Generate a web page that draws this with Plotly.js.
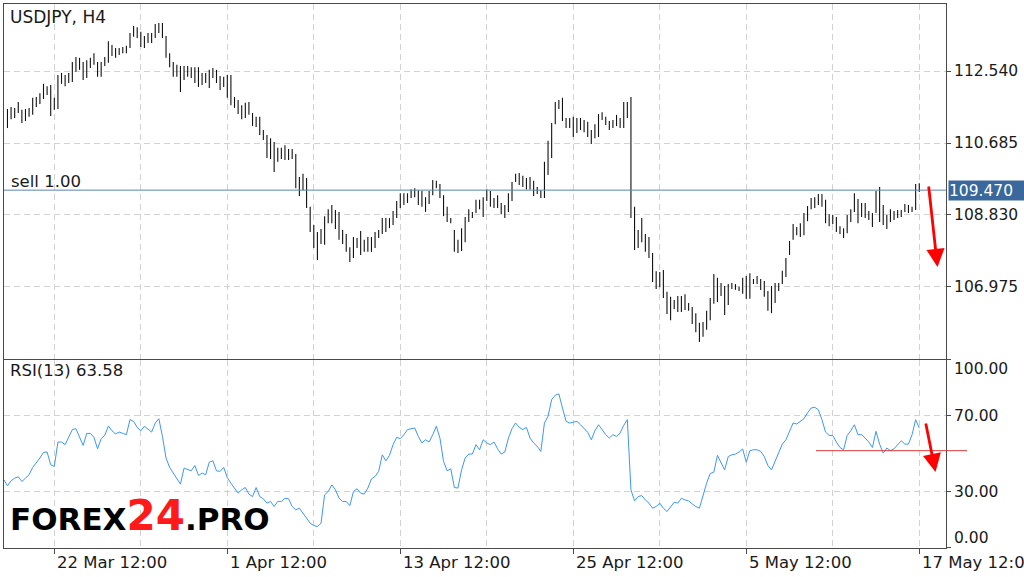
<!DOCTYPE html>
<html><head><meta charset="utf-8">
<script src="https://cdn.plot.ly/plotly-3.0.1.min.js"></script>
<style>html,body{margin:0;padding:0;background:#fff;overflow:hidden}#chart{width:1024px;height:577px}</style>
</head><body><div id="chart"></div>
<script>
// ---- data (H4 bars, index 0 = first visible bar) ----
const barHigh = [
111.56,111.61,111.59,111.74,111.54,111.56,111.59,111.85,111.87,111.97,
112.21,112.15,112.18,111.85,112.44,112.49,112.44,112.49,112.77,112.90,
112.88,112.77,112.82,112.88,113.00,112.77,112.77,112.90,113.31,113.21,
113.13,113.13,113.16,113.19,113.52,113.70,113.67,113.55,113.44,113.52,
113.52,113.75,113.78,113.78,113.44,113.00,112.77,112.70,112.67,112.67,
112.67,112.64,112.64,112.64,112.49,112.49,112.57,112.62,112.57,112.41,
112.39,112.44,112.44,111.87,111.79,111.66,111.72,111.74,111.46,111.36,
111.36,111.02,110.89,110.81,110.71,110.56,110.56,110.63,110.53,110.53,
110.40,109.81,109.89,109.78,109.04,108.57,108.39,108.47,108.80,108.98,
109.09,108.96,108.91,108.44,108.34,108.00,108.26,108.24,108.42,108.19,
108.26,108.26,108.39,108.44,108.75,108.75,108.75,108.93,109.19,109.39,
109.39,109.39,109.49,109.52,109.47,109.45,109.29,109.45,109.73,109.71,
109.63,109.34,109.04,108.75,108.44,108.19,108.49,108.78,108.98,108.91,
109.22,109.22,109.29,109.49,109.45,109.27,109.34,109.14,109.09,109.39,
109.68,109.89,109.91,109.84,109.78,109.81,109.71,109.55,109.47,110.20,
110.74,111.20,111.74,111.79,111.85,111.33,111.33,111.36,111.33,111.33,
111.28,111.23,111.02,111.17,111.43,111.48,111.36,111.25,111.28,111.41,
111.33,111.74,111.74,111.87,109.04,108.44,108.75,108.34,108.26,107.85,
107.38,107.36,107.41,106.85,106.72,106.64,106.74,106.74,106.79,106.56,
106.46,106.30,106.05,106.07,106.36,106.69,107.31,107.21,107.08,107.00,
107.05,107.08,107.05,106.98,107.21,107.26,107.33,107.18,107.26,107.18,
107.13,106.87,107.00,107.08,107.08,107.39,107.72,108.16,108.60,108.52,
108.62,108.88,109.06,109.27,109.29,109.37,109.37,109.22,108.85,108.83,
108.78,108.54,108.49,108.83,108.98,109.39,109.24,109.14,109.14,108.93,
108.88,109.45,109.55,109.09,108.83,108.98,108.93,108.96,108.96,109.11,
109.09,109.04,109.63,109.65];
const barLow = [
111.07,111.30,111.33,111.46,111.20,111.25,111.36,111.41,111.61,111.69,
111.82,111.92,111.38,111.54,111.56,112.21,112.15,112.23,112.26,112.52,
112.57,112.31,112.36,112.62,112.70,112.39,112.39,112.67,112.75,112.93,
112.88,112.95,113.00,113.00,113.13,113.42,113.39,113.16,113.13,113.26,
113.26,113.39,113.52,113.39,112.88,112.64,112.39,112.39,112.00,112.31,
112.39,112.36,112.23,112.13,112.18,112.23,112.10,112.36,112.23,112.05,
112.13,111.85,111.66,111.59,111.43,111.30,111.33,111.41,111.12,111.10,
110.89,110.76,110.30,110.27,109.94,110.20,110.27,110.25,110.25,110.27,
109.52,109.32,109.47,109.01,108.39,107.98,107.67,108.08,108.06,108.62,
108.62,108.47,108.19,108.08,107.88,107.62,107.72,107.98,107.80,107.88,
107.88,107.88,107.98,108.24,108.34,108.39,108.49,108.57,108.75,109.01,
109.09,109.14,109.27,109.29,109.09,109.04,108.91,109.11,109.34,109.52,
109.27,108.80,108.65,108.62,107.88,107.85,107.90,108.13,108.65,108.75,
108.88,108.98,108.78,109.19,109.04,109.01,109.01,108.85,108.75,108.91,
109.19,109.68,109.60,109.55,109.49,109.49,109.32,109.37,109.27,109.27,
109.86,110.30,111.17,111.56,111.25,111.07,111.07,110.84,110.94,111.02,
110.96,110.84,110.66,110.81,110.84,111.28,111.15,111.02,111.07,111.12,
111.07,111.07,111.33,108.75,107.93,107.98,108.13,107.88,107.72,107.10,
106.92,106.97,106.69,106.28,106.12,106.41,106.33,106.33,106.38,106.36,
106.02,105.81,105.56,105.69,105.87,106.12,106.54,106.59,106.74,106.25,
106.51,106.92,106.90,106.87,106.80,106.67,106.67,107.05,107.05,106.90,
106.72,106.36,106.30,106.56,106.87,107.05,107.23,107.80,108.19,108.31,
108.26,108.31,108.67,108.98,109.01,109.09,109.04,108.62,108.54,108.60,
108.39,108.34,108.24,108.36,108.65,108.91,108.62,108.78,108.75,108.70,
108.52,108.88,108.65,108.57,108.47,108.65,108.70,108.75,108.78,108.91,
108.88,108.91,108.96,109.42];
// RSI(13), first value belongs to bar index -1 (just off the left edge)
const rsiFirstIndex = -1;
const rsiValues = [
36.0,
32.8,35.5,36.9,37.6,35.1,36.9,38.7,42.6,44.9,47.6,
50.6,50.8,44.0,43.1,56.1,56.1,54.7,58.6,62.7,63.2,
58.6,54.3,60.7,60.7,58.6,52.5,57.9,59.7,64.6,62.1,
60.4,61.4,60.7,60.0,68.0,67.1,63.9,62.1,64.5,62.7,
61.4,66.2,68.5,59.1,47.6,42.6,39.6,36.9,33.7,42.2,
41.3,40.8,43.6,38.3,39.6,38.7,45.4,46.1,40.8,40.5,
42.6,37.2,34.2,31.6,28.9,30.7,31.9,28.4,27.1,31.9,
27.1,25.9,23.6,24.5,21.8,24.5,24.5,26.2,25.9,21.8,
20.0,20.9,18.2,15.9,12.9,11.7,11.1,12.9,28.0,29.8,
33.3,30.7,26.2,24.5,24.5,22.3,29.8,31.2,28.9,28.4,
31.6,36.5,37.8,40.5,49.3,46.1,49.0,54.7,58.6,57.9,
60.0,62.7,63.2,63.6,59.1,55.6,57.3,56.1,60.0,64.5,
58.2,45.8,40.8,41.9,31.9,31.6,41.3,47.6,49.7,49.7,
54.7,52.0,57.3,55.6,54.7,56.1,52.5,49.7,50.8,58.2,
63.2,66.2,63.9,62.7,63.9,58.2,55.6,53.8,51.1,66.2,
69.8,78.7,81.0,81.7,74.2,67.1,66.2,66.8,67.1,65.3,
63.2,61.3,57.3,62.1,65.3,62.7,60.0,58.2,60.0,59.1,
60.9,65.0,68.0,30.7,24.8,27.1,27.6,25.3,23.6,20.9,
21.8,23.6,20.9,19.1,21.8,24.1,23.6,26.2,25.3,24.8,
23.2,21.8,20.9,28.0,34.2,39.4,40.1,49.0,44.9,41.3,
48.4,49.3,49.7,50.8,52.4,45.4,51.5,52.0,52.0,51.1,
48.4,43.6,41.3,45.8,50.2,55.0,57.3,62.1,66.2,65.7,
67.1,68.5,71.6,74.2,74.6,73.3,68.0,61.4,59.6,59.6,
56.1,53.2,52.0,59.6,62.1,65.3,60.0,60.0,58.2,56.1,
53.2,61.8,55.0,50.2,52.9,51.5,52.5,54.7,56.8,55.0,
55.0,60.0,68.0,63.6];
const rsiLast = 63.58;
const priceTicks = [106.975, 108.830, 110.685, 112.540];
const rsiTicks = [0, 30, 70, 100];
const rsiTickText = ['', '30.00', '70.00', ''];
const timeLabels = ['22 Mar 12:00', '1 Apr 12:00', '13 Apr 12:00', '25 Apr 12:00', '5 May 12:00', '17 May 12:00'];
const timeLabelBars = [13, 61, 109, 157, 205, 253];
const gridBars = [13, 37, 61, 85, 109, 133, 157, 181, 205, 229, 253];
const sellPrice = 109.470;
const rsiLevel = 51.5;

// ---- build traces ----
const bx = [], by = [];
for (let i = 0; i < barHigh.length; i++) {
  bx.push(i, i, null); by.push(barLow[i], barHigh[i], null);
}
const rx = rsiValues.map((v, k) => k + rsiFirstIndex);

const W = 1024, H = 577;
const px = v => v / W, py = v => 1 - v / H;
const FONT = 'DejaVu Sans';
const grid = '#d2d2d2', frame = '#4a4a4a';
const xRange = [-0.96, 260.42];

const traces = [
  {type: 'scatter', mode: 'lines', x: bx, y: by, xaxis: 'x', yaxis: 'y',
   line: {color: '#111', width: 1.1}, hoverinfo: 'skip', connectgaps: false},
  {type: 'scatter', mode: 'lines', x: rx, y: rsiValues, xaxis: 'x2', yaxis: 'y2',
   line: {color: '#3d97f2', width: 1}, hoverinfo: 'skip'}
];

const ann = [
  {text: 'USDJPY, H4', xref: 'paper', yref: 'paper', x: px(8), y: py(17), xanchor: 'left', yanchor: 'middle', showarrow: false, font: {size: 17, color: '#1a1a1a'}},
  {text: 'sell 1.00', xref: 'paper', yref: 'paper', x: px(9), y: py(181), xanchor: 'left', yanchor: 'middle', showarrow: false, font: {size: 16.5, color: '#1a1a1a'}},
  {text: 'RSI(13) ' + rsiLast.toFixed(2), xref: 'paper', yref: 'paper', x: px(8), y: py(370), xanchor: 'left', yanchor: 'middle', showarrow: false, font: {size: 16.5, color: '#1a1a1a'}},
  {text: sellPrice.toFixed(3), xref: 'paper', yref: 'y', x: px(948), y: sellPrice, xanchor: 'left', yanchor: 'middle', showarrow: false,
   bgcolor: '#3a679c', font: {size: 15.5, color: '#ffffff'}, width: 76, height: 19, align: 'left', borderpad: 0},
  {text: '100.00', xref: 'paper', yref: 'paper', x: px(952), y: py(369), xanchor: 'left', yanchor: 'middle', showarrow: false, font: {size: 15.5, color: '#1a1a1a'}},
  {text: '0.00', xref: 'paper', yref: 'paper', x: px(952), y: py(538), xanchor: 'left', yanchor: 'middle', showarrow: false, font: {size: 15.5, color: '#1a1a1a'}},
  {text: '<b>FOREX<span style="color:#ff1a1a;font-size:42px">24</span>.PRO</b>', xref: 'paper', yref: 'paper', x: px(8), y: py(542), xanchor: 'left', yanchor: 'bottom', showarrow: false,
   font: {family: 'DejaVu Sans', size: 31, color: '#000'}},
  {text: '', xref: 'paper', yref: 'paper', x: px(937.5), y: py(267), ax: -9, ay: -82, showarrow: true, arrowhead: 2, arrowsize: 1.3, arrowwidth: 2.8, arrowcolor: '#ff0000', standoff: 0},
  {text: '', xref: 'paper', yref: 'paper', x: px(935.5), y: py(472), ax: -10, ay: -50, showarrow: true, arrowhead: 2, arrowsize: 1.3, arrowwidth: 2.8, arrowcolor: '#ff0000', standoff: 0}
];
timeLabels.forEach((t, k) => ann.push({text: t, xref: 'x2', yref: 'paper', x: timeLabelBars[k], xshift: 1, y: py(562), xanchor: 'left', yanchor: 'middle', showarrow: false, font: {size: 16.5, color: '#1a1a1a'}}));

const layout = {
  width: W, height: H, margin: {l: 0, r: 0, t: 0, b: 0}, showlegend: false,
  paper_bgcolor: '#fff', plot_bgcolor: '#fff',
  font: {family: FONT, size: 15, color: '#1a1a1a'},
  xaxis: {domain: [px(4), px(946)], range: xRange, anchor: 'y', showticklabels: false, tickvals: gridBars, ticks: '',
    showgrid: true, gridcolor: grid, griddash: '6px,4px', zeroline: false, showline: true, mirror: true, linecolor: frame, linewidth: 1},
  yaxis: {domain: [py(359), py(4)], range: [105.119, 114.267], anchor: 'x', side: 'right', tickvals: priceTicks, tickformat: '.3f',
    ticks: 'outside', ticklen: 4, tickcolor: frame, showgrid: true, gridcolor: grid, griddash: '6px,4px', zeroline: false,
    showline: true, mirror: true, linecolor: frame, linewidth: 1, tickfont: {size: 15.5}},
  xaxis2: {domain: [px(4), px(946)], range: xRange, anchor: 'y2', tickvals: timeLabelBars, ticktext: timeLabels.map(() => ''),
    ticks: 'outside', ticklen: 5, tickcolor: frame, showgrid: true, gridcolor: grid, griddash: '6px,4px',
    minor: {tickvals: gridBars, showgrid: true, gridcolor: grid, griddash: '6px,4px', ticks: ''},
    zeroline: false, showline: true, mirror: true, linecolor: frame, linewidth: 1},
  yaxis2: {domain: [py(547.5), py(359.5)], range: [0, 100], anchor: 'x2', side: 'right', tickvals: rsiTicks, ticktext: rsiTickText,
    ticks: 'outside', ticklen: 4, tickcolor: frame, showgrid: true, gridcolor: grid, griddash: '6px,4px', zeroline: false,
    showline: true, mirror: true, linecolor: frame, linewidth: 1, tickfont: {size: 15.5}},
  shapes: [
    {type: 'line', xref: 'paper', yref: 'y', x0: px(4), x1: px(946), y0: sellPrice, y1: sellPrice, line: {color: '#5b84b0', width: 1}},
    {type: 'line', xref: 'paper', yref: 'y2', x0: px(816), x1: px(967), y0: rsiLevel, y1: rsiLevel, line: {color: '#d83a3a', width: 1}}
  ],
  annotations: ann
};
Plotly.newPlot('chart', traces, layout, {staticPlot: true, displayModeBar: false});
</script></body></html>
